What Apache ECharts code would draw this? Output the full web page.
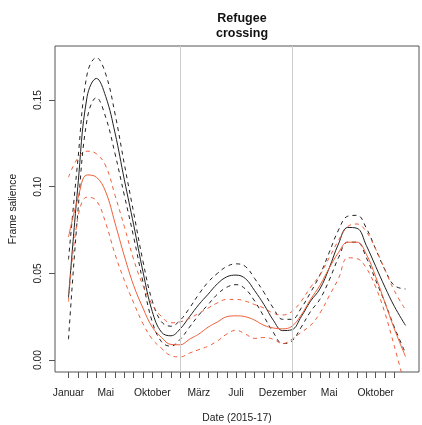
<!DOCTYPE html>
<html>
<head>
<meta charset="utf-8">
<script src="https://cdn.jsdelivr.net/npm/echarts@6/dist/echarts.min.js"></script>
<style>
  html, body { margin: 0; padding: 0; background: #fff; }
  #chart { width: 422px; height: 425px; }
</style>
</head>
<body>
<div id="chart"></div>
<script>
// Month index since January 2015 (0 = Jan 2015)
const months = [0, 1, 2, 3, 4, 5, 6, 7, 8, 9, 10, 11, 12, 13, 14, 15, 16, 17, 18,
  19, 20, 21, 22, 23, 24, 25, 26, 27, 28, 29, 30, 31, 32, 33, 34, 35, 36.2];

// Black curve: estimate with upper / lower bounds
const blackMean = [0.036, 0.100, 0.152, 0.1625, 0.152, 0.131, 0.104, 0.078, 0.051, 0.028,
  0.016, 0.014, 0.018, 0.025, 0.032, 0.038, 0.044, 0.048, 0.049, 0.047, 0.040, 0.032,
  0.023, 0.017, 0.0175, 0.025, 0.034, 0.041, 0.053, 0.067, 0.0765, 0.076, 0.066, 0.054,
  0.042, 0.031, 0.020];
const blackUpper = [0.058, 0.115, 0.165, 0.1745, 0.165, 0.142, 0.113, 0.085, 0.057, 0.034,
  0.022, 0.0195, 0.023, 0.030, 0.038, 0.045, 0.050, 0.054, 0.0555, 0.054, 0.047, 0.039,
  0.030, 0.0235, 0.0235, 0.030, 0.039, 0.049, 0.062, 0.075, 0.083, 0.0835, 0.076, 0.064,
  0.052, 0.043, 0.041];
const blackLower = [0.012, 0.085, 0.139, 0.1514, 0.140, 0.119, 0.095, 0.071, 0.045, 0.022,
  0.0105, 0.008, 0.012, 0.019, 0.026, 0.032, 0.038, 0.042, 0.0435, 0.041, 0.034, 0.025,
  0.016, 0.0095, 0.011, 0.019, 0.028, 0.035, 0.046, 0.059, 0.068, 0.068, 0.059, 0.046,
  0.033, 0.019, 0.004];

// Red curve: estimate with upper / lower bounds
const redMean = [0.071, 0.093, 0.1068, 0.1055, 0.097, 0.079, 0.060, 0.043, 0.030, 0.019,
  0.013, 0.009, 0.0088, 0.012, 0.015, 0.019, 0.022, 0.025, 0.0255, 0.025, 0.023, 0.020,
  0.0185, 0.018, 0.0195, 0.026, 0.035, 0.043, 0.053, 0.062, 0.068, 0.068, 0.061, 0.048,
  0.033, 0.018, 0.002];
const redUpper = [0.1055, 0.1165, 0.1205, 0.119, 0.112, 0.095, 0.077, 0.058, 0.043, 0.032,
  0.025, 0.0215, 0.022, 0.024, 0.027, 0.030, 0.033, 0.035, 0.035, 0.034, 0.032, 0.030,
  0.027, 0.026, 0.028, 0.034, 0.042, 0.049, 0.059, 0.069, 0.077, 0.0785, 0.074, 0.064,
  0.052, 0.040, 0.029];
const redLower = [0.0337, 0.082, 0.094, 0.092, 0.079, 0.061, 0.046, 0.033, 0.021, 0.012,
  0.0067, 0.0025, 0.0018, 0.004, 0.006, 0.008, 0.011, 0.015, 0.0172, 0.015, 0.0125, 0.013,
  0.012, 0.0095, 0.012, 0.016, 0.020, 0.027, 0.037, 0.047, 0.059, 0.0585, 0.053, 0.042,
  0.027, 0.008, -0.016];

// Axis ticks and labels
const monthTicks = [0, 1, 2, 3, 4, 5, 6, 7, 8, 9, 10, 11, 12, 13, 14, 15, 16, 17, 18,
  19, 20, 21, 22, 23, 24, 25, 26, 27, 28, 29, 30, 31, 32, 33, 34, 35];
const xLabelMonths = [0, 4, 9, 14, 18, 23, 28, 33];
const xLabels = ['Januar', 'Mai', 'Oktober', 'März', 'Juli', 'Dezember', 'Mai', 'Oktober'];
const yTicks = [0, 0.05, 0.10, 0.15];
const yLabels = ['0.00', '0.05', '0.10', '0.15'];
const yearBreaks = [12, 24];

const FONT = 'Liberation Sans, Arial, Helvetica, sans-serif';
const BLACK = '#222222';
const RED = '#EF5F3A';

function pairs(vals) {
  return months.map((m, i) => [m, vals[i]]);
}

function line(name, vals, color, dashed) {
  return {
    name: name,
    type: 'line',
    data: pairs(vals),
    smooth: 0.4,
    showSymbol: false,
    clip: true,
    lineStyle: { color: color, width: 1, type: dashed ? [4, 4] : 'solid' },
    z: 3
  };
}

const chart = echarts.init(document.getElementById('chart'), null, { renderer: 'canvas' });

const series = [
  {
    name: 'breaks',
    type: 'line',
    data: [],
    markLine: {
      silent: true,
      symbol: 'none',
      label: { show: false },
      lineStyle: { color: '#cccccc', width: 1, type: 'solid' },
      data: yearBreaks.map(v => ({ xAxis: v }))
    },
    z: 1
  },
  line('black upper', blackUpper, BLACK, true),
  line('black lower', blackLower, BLACK, true),
  line('black', blackMean, BLACK, false),
  line('red upper', redUpper, RED, true),
  line('red lower', redLower, RED, true),
  line('red', redMean, RED, false)
];

chart.setOption({
  animation: false,
  backgroundColor: '#ffffff',
  title: {
    text: 'Refugee\ncrossing',
    left: 237,
    top: 6,
    textAlign: 'center',
    textStyle: { fontFamily: FONT, fontSize: 12.5, fontWeight: 'bold', color: '#111', lineHeight: 15 }
  },
  grid: {
    left: 55, right: 3, top: 46, bottom: 53,
    containLabel: false,
    outerBoundsMode: 'none',
    show: true, borderColor: '#555', borderWidth: 1, backgroundColor: 'transparent'
  },
  xAxis: {
    type: 'value',
    min: -1.45,
    max: 37.65,
    name: 'Date (2015-17)',
    nameLocation: 'middle',
    nameGap: 41,
    nameTextStyle: { fontFamily: FONT, fontSize: 10.3, color: '#222' },
    axisLine: { show: false, onZero: false },
    splitLine: { show: false },
    axisTick: { show: true, inside: false, customValues: monthTicks, length: 6, lineStyle: { color: '#555' } },
    axisLabel: {
      customValues: xLabelMonths,
      margin: 16,
      hideOverlap: false,
      fontFamily: FONT, fontSize: 10.3, color: '#222',
      formatter: function (v) {
        const i = xLabelMonths.findIndex(m => Math.abs(m - v) < 1e-6);
        return i >= 0 ? xLabels[i] : '';
      }
    }
  },
  yAxis: {
    type: 'value',
    min: -0.0069,
    max: 0.1812,
    name: 'Frame salience',
    nameLocation: 'middle',
    nameGap: 37,
    nameTextStyle: { fontFamily: FONT, fontSize: 10.3, color: '#222' },
    axisLine: { show: false, onZero: false },
    splitLine: { show: false },
    axisTick: { show: true, inside: false, customValues: yTicks, length: 6, lineStyle: { color: '#555' } },
    axisLabel: {
      customValues: yTicks,
      rotate: 90,
      margin: 12,
      hideOverlap: false,
      fontFamily: FONT, fontSize: 10.3, color: '#222',
      formatter: function (v) {
        const i = yTicks.findIndex(t => Math.abs(t - v) < 1e-9);
        return i >= 0 ? yLabels[i] : '';
      }
    }
  },
  series: series
});
</script>
</body>
</html>
